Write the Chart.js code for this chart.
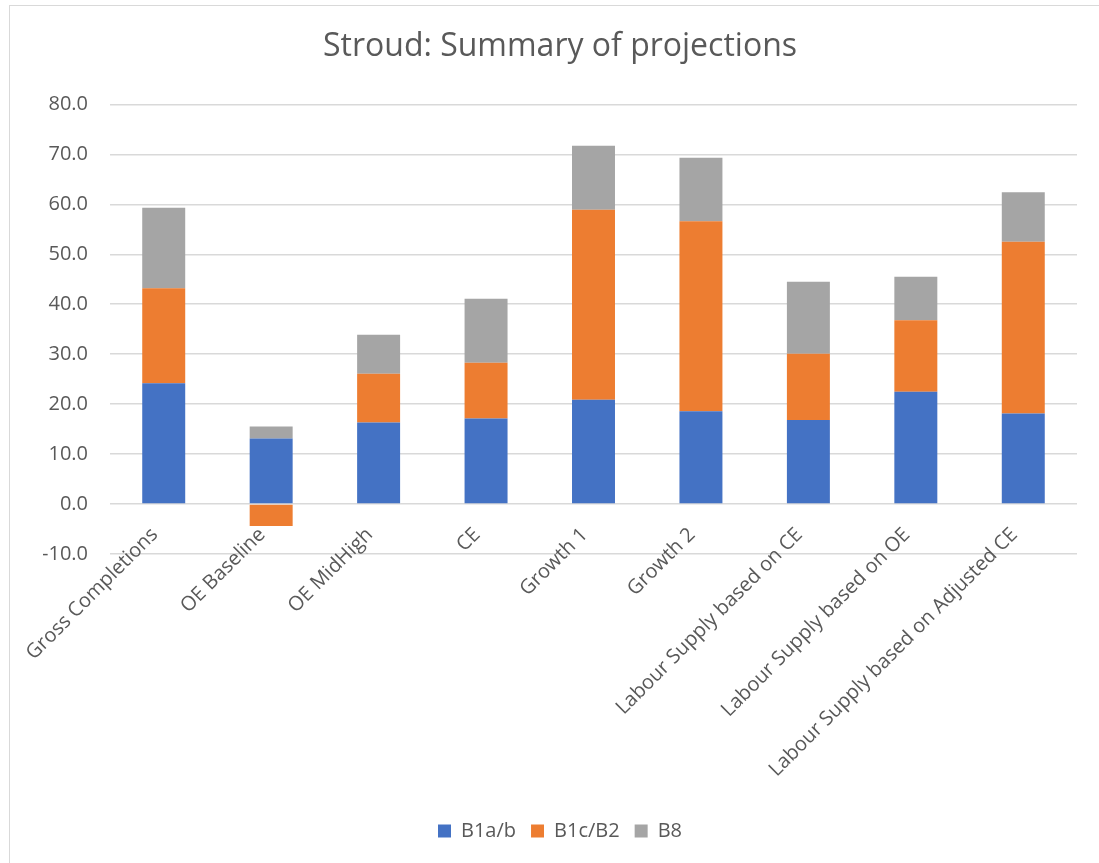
<!DOCTYPE html>
<html>
<head>
<meta charset="utf-8">
<script src="https://cdn.jsdelivr.net/npm/chart.js@4.4.1/dist/chart.umd.min.js"></script>
<style>
    body { margin: 0; background: #fff; overflow: hidden; }
    #frame { position: absolute; left: 9px; top: 5px; width: 1200px; height: 900px; border: 1px solid #d9d9d9; }
    #wrap { position: absolute; left: 0; top: 0; width: 1099px; height: 863px; }
</style>
</head>
<body>
<div id="frame"></div>
<div id="wrap"><canvas id="chart"></canvas></div>
<script>
// Datos
const categories = ['Gross Completions', 'OE Baseline', 'OE MidHigh', 'CE', 'Growth 1', 'Growth 2',
    'Labour Supply based on CE', 'Labour Supply based on OE', 'Labour Supply based on Adjusted CE'];
const b1ab = [24.2, 13.1, 16.3, 17.1, 20.9, 18.6, 16.8, 22.5, 18.1];
const b1cb2 = [19.0, -4.4, 9.8, 11.2, 38.0, 38.0, 13.3, 14.3, 34.4];
const b8 = [16.1, 2.4, 7.8, 12.8, 12.8, 12.7, 14.4, 8.7, 9.9];

const font = "'Open Sans', sans-serif";
const textColor = '#595959';

const data = {
    labels: categories,
    datasets: [
        { label: 'B1a/b', data: b1ab, backgroundColor: '#4472C4' },
        { label: 'B1c/B2', data: b1cb2, backgroundColor: '#ED7D31' },
        { label: 'B8', data: b8, backgroundColor: '#A5A5A5' }
    ]
};

// Ajustes de la gráfica
const config = {
    type: 'bar',
    data: data,
    options: {
        responsive: true,
        maintainAspectRatio: false,
        animation: false,
        datasets: { bar: { categoryPercentage: 1, barPercentage: 0.4 } },
        layout: { padding: { left: 43, right: 22, top: 0, bottom: 12 } },
        plugins: {
            title: {
                display: true,
                text: 'Stroud: Summary of projections',
                color: textColor,
                font: { family: font, size: 32, weight: 'normal' },
                padding: { top: 28, bottom: 38 }
            },
            legend: {
                position: 'bottom',
                labels: {
                    color: textColor,
                    font: { family: font, size: 20 },
                    boxWidth: 13,
                    boxHeight: 13,
                    padding: 15
                }
            },
            tooltip: { enabled: false }
        },
        scales: {
            x: {
                stacked: true,
                grid: { display: false, drawTicks: false },
                border: { display: false },
                ticks: { display: false },
                afterFit: (scale) => { scale.height = 252; }
            },
            // eje de etiquetas, cruza en 0 como en Excel
            xLabels: {
                type: 'category',
                axis: 'x',
                labels: categories,
                offset: true,
                position: { y: 0 },
                grid: { display: false, drawTicks: false },
                border: { display: false },
                ticks: {
                    color: textColor,
                    font: { family: font, size: 20 },
                    maxRotation: 45,
                    minRotation: 45,
                    autoSkip: false,
                    padding: 19,
                    labelOffset: -9
                }
            },
            y: {
                stacked: true,
                min: -10,
                max: 80,
                grid: { color: '#d9d9d9', lineWidth: 1.5, drawTicks: false },
                border: { display: false },
                ticks: {
                    stepSize: 10,
                    color: textColor,
                    font: { family: font, size: 20 },
                    padding: 22,
                    callback: (v) => Number(v).toFixed(1)
                },
                afterFit: (scale) => { scale.width = 67; }
            }
        }
    }
};

const graph = new Chart(document.getElementById('chart'), config);
</script>
</body>
</html>
